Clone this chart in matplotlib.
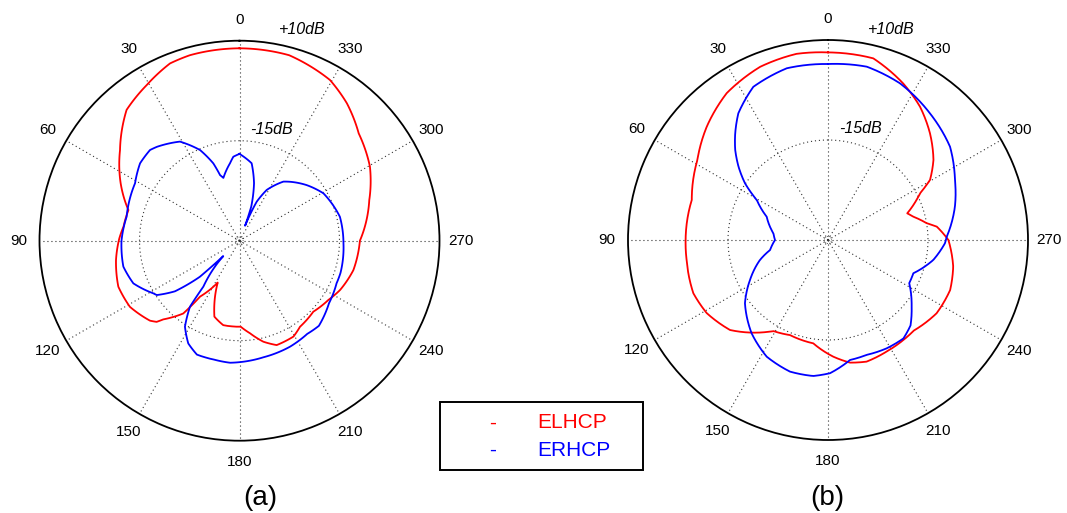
import numpy as np
import matplotlib
matplotlib.use('Agg')
import matplotlib.pyplot as plt
from matplotlib.patches import Rectangle

plt.rcParams['font.family'] = ['Liberation Sans', 'DejaVu Sans']

# angle (deg) / gain (dB)
a_red_ang = [0, 15, 21.4, 30.8, 40.8, 52.8, 64.2, 74.6, 83, 88.9, 98.9, 110.8, 121.1, 131.8, 134.4,
             135.9, 142.3, 144.8, 152.5, 156.4, 161.7, 169.1, 180.8, 186.5, 193.3, 199.6, 209.4,
             215.1, 226.1, 236.3, 243.9, 255.5, 270, 287.4, 299.6, 312, 322, 330.6, 345, 360]
a_red_db = [8.1, 8.0, 7.6, 5.3, 3.2, -2.5, -7.0, -11.2, -10.8, -9.95, -8.75, -7.6, -8.0, -10.0, -11.0,
            -12.6, -17.0, -22.9, -28.2, -24.7, -20.0, -18.5, -18.5, -16.7, -14.05, -12.3, -12.5,
            -13.7, -14.4, -13.3, -12.0, -10.6, -9.9, -6.0, -2.5, 0.1, 3.6, 6.1, 8.0, 8.1]

a_blue_ang = [0, 4.2, 7, 14.4, 16.5, 18.7, 23.5, 31, 41.3, 44.6, 52.1, 61.2, 78, 90, 102.6, 111.9,
              121.4, 123.3, 128.1, 132.3, 133.5, 141.8, 143.1, 147.6, 153.5, 159.5, 168, 175.6,
              191.6, 205.5, 216, 223, 235, 246.3, 252.3, 268.5, 283.4, 299.4, 309.6, 319.4, 323.4,
              331.8, 336.2, 339.5, 341, 345.8, 351.1, 360]
a_blue_db = [-18.3, -18.95, -20.5, -23.8, -22.9, -19.6, -15.3, -11.1, -8.75, -8.15, -8.5, -10.2, -11.15, -10.5, -10.25, -11.4,
             -14.75, -15.25, -19.5, -26.6, -34.4, -25.4, -19.4, -14.55, -11.3, -9.6, -9.6, -9.4,
             -10.25, -10.65, -11.2, -10.9, -12.7, -13.5, -13.5, -14.0, -14.2, -15.9, -18.2, -20.6, -21.6,
             -25.6, -29.35, -36.0, -31.0, -25.2, -20.4, -18.3]

b_red_ang = [0, 9.6, 21.4, 34.6, 46.9, 58.5, 73.6, 90, 98.1, 111.6, 121.1, 132.6, 139.9, 149, 158.2,
             171.9, 182.6, 190.2, 197.6, 207.7, 217, 223.5, 236, 247.7, 258, 270, 277, 279.5, 285.3,
             288.6, 296.9, 300.5, 307.2, 316.3, 325.4, 334.3, 346, 360]
b_red_db = [6.9, 7.2, 6.5, 4.6, 1.5, -1.7, -4.5, -4.4, -4.3, -3.8, -4.6, -6.75, -9.75, -13.45, -14.4,
            -13.9, -10.8, -8.85, -8.1, -8.5, -8.7, -8.8, -7.25, -7.0, -8.0, -9.9, -12.6, -14.9, -17.9,
            -19.1, -14.2, -10.4, -6.9, -3.1, 0.5, 3.4, 6.8, 6.9]

b_blue_ang = [0, 13.5, 26, 35.3, 41.1, 45.9, 50.7, 55.7, 60.7, 69.2, 83, 90, 99.8, 106.4, 117.1,
              127.3, 140.7, 152.3, 163.9, 173.8, 180.9, 190.4, 198.6, 208.4, 217.5, 224, 231.4, 242,
              248.7, 259.3, 268.4, 271.6, 284.7, 295.3, 307.4, 321.2, 335.3, 347.4, 360]
b_blue_db = [4.0, 4.15, 2.6, -1.2, -4.7, -7.7, -11.1, -14.9, -19.6, -23.6, -26.25, -26.75, -25.3, -22.25, -18.1,
             -13.9, -9.85, -7.05, -5.75, -5.8, -6.7, -9.5, -9.7, -9.2, -9.0, -10.3, -13.25, -17.0,
             -17.1, -13.2, -10.75, -10.3, -7.2, -4.9, -1.6, 0.65, 3.1, 4.4, 4.0]

angle_ticks = list(range(0, 360, 30))
r_min, r_inner, r_max = -40, -15, 10

fig = plt.figure(figsize=(10.67, 5.13), dpi=100)
W, H = 1067, 513


def polar_panel(cx, cy, R, red_ang, red_db, blue_ang, blue_db, label, label_x):
    ax = fig.add_axes([(cx - R) / W, (H - cy - R) / H, 2 * R / W, 2 * R / H], projection='polar')
    ax.set_theta_zero_location('N')
    ax.set_theta_direction(1)
    ax.set_rlim(r_min, r_max)
    ax.grid(False)
    ax.set_xticks([])
    ax.set_yticks([])
    ax.spines['polar'].set_linewidth(1.3)
    ax.spines['polar'].set_color('black')

    dots = (0, (1, 2.6))
    for a in angle_ticks:
        ax.plot([np.deg2rad(a)] * 2, [r_min, r_max], color='0.2', lw=0.8, ls=dots)
    t = np.linspace(0, 2 * np.pi, 361)
    ax.plot(t, np.full_like(t, r_inner), color='0.2', lw=0.8, ls=dots)
    ax.plot(t, np.full_like(t, r_min + 0.9), color='0.2', lw=0.6, ls=(0, (1, 1.5)))

    for ang, db, col in [(red_ang, red_db, '#ff0000'), (blue_ang, blue_db, '#0000ff')]:
        ln, = ax.plot(np.deg2rad(ang), db, color=col, lw=1.3)
        # let the polar transform draw each segment as a curve in (theta, r)
        ln.get_path()._interpolation_steps = 40

    r_lab = r_min + 1.105 * (r_max - r_min)
    for a in angle_ticks:
        ax.text(np.deg2rad(a), r_lab, str(a), ha='center', va='center', fontsize=11, clip_on=False)

    ax.text(0.657, 1.027, '+10dB', transform=ax.transAxes, ha='center', va='center',
            fontsize=11.5, style='italic')
    ax.text(0.58, 0.779, '-15dB', transform=ax.transAxes, ha='center', va='center',
            fontsize=11.5, style='italic')
    fig.text(label_x / W, 1 - 498 / H, label, ha='center', va='center', fontsize=20)
    return ax


polar_panel(239.5, 240.7, 200, a_red_ang, a_red_db, a_blue_ang, a_blue_db, '(a)', 260)
polar_panel(828, 240, 200, b_red_ang, b_red_db, b_blue_ang, b_blue_db, '(b)', 827)

# legend box
fig.patches.append(Rectangle((440 / W, 1 - 470 / H), 203 / W, 68 / H, transform=fig.transFigure,
                             fill=False, edgecolor='black', lw=1.4))
fig.text(493 / W, 1 - 423 / H, '-', color='#ff0000', ha='center', va='center', fontsize=15)
fig.text(493 / W, 1 - 450 / H, '-', color='#0000ff', ha='center', va='center', fontsize=15)
fig.text(537 / W, 1 - 423 / H, 'ELHCP', color='#ff0000', ha='left', va='center', fontsize=15)
fig.text(537 / W, 1 - 450 / H, 'ERHCP', color='#0000ff', ha='left', va='center', fontsize=15)

fig.savefig('out.png', dpi=100)
